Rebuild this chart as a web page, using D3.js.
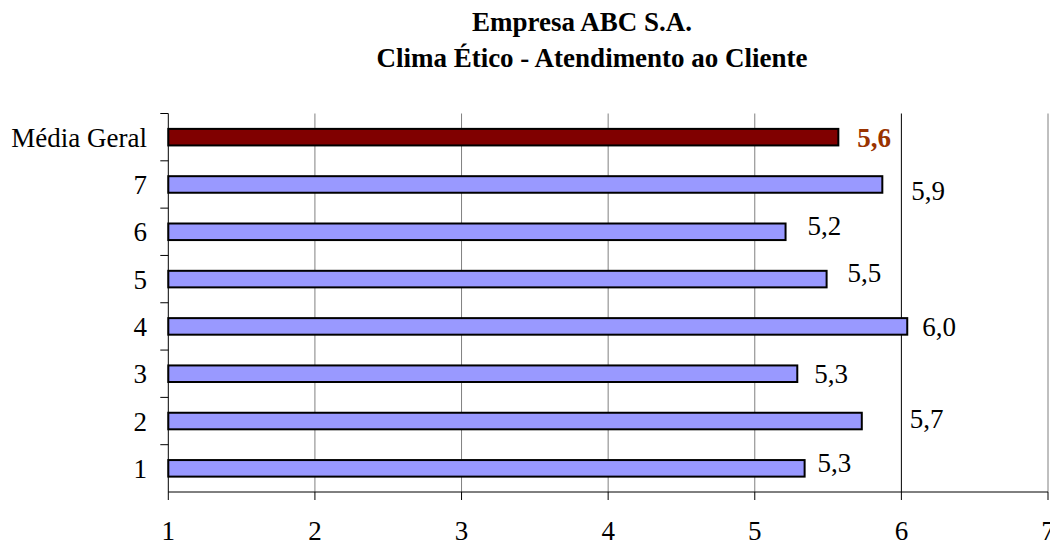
<!DOCTYPE html>
<html>
<head>
<meta charset="utf-8">
<script src="https://cdn.jsdelivr.net/npm/d3@7"></script>
<style>
  body { margin: 0; background: #fff; }
  svg { display: block; font-family: "Liberation Serif", "Times New Roman", serif; }
</style>
</head>
<body>
<div id="chart"></div>
<script>
// data
var categories = ['Média Geral', '7', '6', '5', '4', '3', '2', '1'];
var values = [5.57, 5.87, 5.21, 5.49, 6.04, 5.29, 5.73, 5.34];
var xTicks = [1, 2, 3, 4, 5, 6, 7];
var titleLines = ['Empresa ABC S.A.', 'Clima Ético - Atendimento ao Cliente'];

// hand-placed label nudges (the original labels were dragged around)
var labelNudge = [[19, 0], [29, 6], [22, -6], [21, -7], [15, 0], [17, 0], [48, -3], [13, -6]];

var width = 1050, height = 548;
var margin = {top: 113.5, right: 2, bottom: 56, left: 168.3};
var fs = 27;

var svg = d3.select('#chart')
  .append('svg')
  .attr('width', width)
  .attr('height', height);

// titles
svg.append('text')
  .attr('x', 582).attr('y', 31)
  .attr('text-anchor', 'middle')
  .attr('font-size', fs).attr('font-weight', 'bold')
  .text(titleLines[0]);
svg.append('text')
  .attr('x', 592).attr('y', 67)
  .attr('text-anchor', 'middle')
  .attr('font-size', fs).attr('font-weight', 'bold')
  .text(titleLines[1]);

var x = d3.scaleLinear()
  .domain([1, 7])
  .range([margin.left, width - margin.right]);

var yBand = d3.scaleBand()
  .domain(categories)
  .range([margin.top, height - margin.bottom])
  .padding(0);

var yBar = d3.scaleBand()
  .domain(categories)
  .range([margin.top, height - margin.bottom])
  .paddingInner(0.65)
  .paddingOuter(0.325);

var y0 = margin.top, y1 = height - margin.bottom;

// vertical gridlines
svg.append('g')
  .selectAll('line')
  .data(xTicks.slice(1))
  .enter().append('line')
  .attr('x1', function(d) { return x(d); })
  .attr('x2', function(d) { return x(d); })
  .attr('y1', y0).attr('y2', y1)
  .attr('stroke', function(d) { return d === 6 ? '#000' : '#808080'; })
  .attr('stroke-width', 1);

// bars
svg.append('g')
  .selectAll('rect')
  .data(categories)
  .enter().append('rect')
  .attr('x', x(1))
  .attr('y', function(d) { return yBar(d); })
  .attr('width', function(d, i) { return x(values[i]) - x(1); })
  .attr('height', yBar.bandwidth())
  .attr('fill', function(d, i) { return i === 0 ? '#800000' : '#9999ff'; })
  .attr('stroke', '#000')
  .attr('stroke-width', 2);

// value labels
svg.append('g')
  .selectAll('text')
  .data(categories)
  .enter().append('text')
  .attr('x', function(d, i) { return x(values[i]) + labelNudge[i][0]; })
  .attr('y', function(d, i) { return yBar(d) + yBar.bandwidth() / 2 + 9.5 + labelNudge[i][1]; })
  .attr('font-size', fs)
  .attr('font-weight', function(d, i) { return i === 0 ? 'bold' : 'normal'; })
  .attr('fill', function(d, i) { return i === 0 ? '#993300' : '#000'; })
  .text(function(d, i) { return values[i].toFixed(1).replace('.', ','); });

// x axis
svg.append('line')
  .attr('x1', x(1)).attr('x2', x(7))
  .attr('y1', y1).attr('y2', y1)
  .attr('stroke', '#000');
svg.append('g')
  .selectAll('line')
  .data(xTicks)
  .enter().append('line')
  .attr('x1', function(d) { return x(d); })
  .attr('x2', function(d) { return x(d); })
  .attr('y1', y1).attr('y2', y1 + 8)
  .attr('stroke', '#000');
svg.append('g')
  .selectAll('text')
  .data(xTicks)
  .enter().append('text')
  .attr('x', function(d) { return x(d); })
  .attr('y', 540)
  .attr('text-anchor', 'middle')
  .attr('font-size', fs)
  .text(function(d) { return d; });

// y axis
svg.append('line')
  .attr('x1', x(1)).attr('x2', x(1))
  .attr('y1', y0).attr('y2', y1)
  .attr('stroke', '#000');
svg.append('g')
  .selectAll('line')
  .data(categories)
  .enter().append('line')
  .attr('x1', x(1) - 8).attr('x2', x(1))
  .attr('y1', function(d) { return yBand(d); })
  .attr('y2', function(d) { return yBand(d); })
  .attr('stroke', '#000');
svg.append('g')
  .selectAll('text')
  .data(categories)
  .enter().append('text')
  .attr('x', 147)
  .attr('y', function(d) { return yBar(d) + yBar.bandwidth() / 2 + 9.5; })
  .attr('text-anchor', 'end')
  .attr('font-size', fs)
  .text(function(d) { return d; });
</script>
</body>
</html>
